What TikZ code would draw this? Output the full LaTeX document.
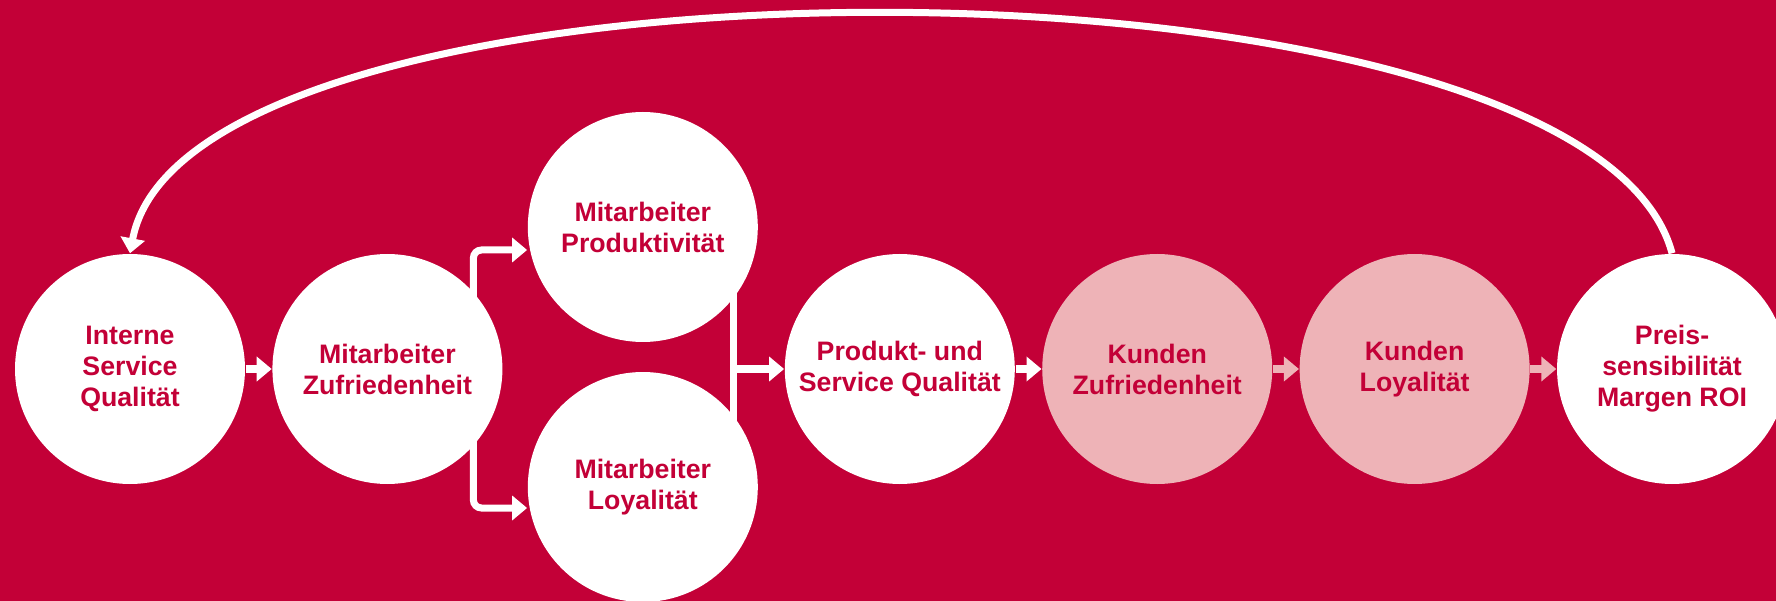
\documentclass[tikz,border=0pt]{standalone}
\usepackage{fontspec}
\setsansfont{Liberation Sans}
\usetikzlibrary{
	arrows.meta,
	positioning,
	calc,
	backgrounds,
}
\definecolor{MyRed}{HTML}{C30037}
\definecolor{MyPink}{HTML}{EEB3B7}
\tikzset{every picture/.style={/utils/exec={\sffamily}}}

\begin{document}
\begin{tikzpicture}	[
				every node/.style={align=center,font=\bfseries\fontsize{7.6}{8.8}\selectfont},
				block/.style={circle,fill=white,text=MyRed,minimum size=23mm,inner sep=0pt},
				kunde/.style={block,fill=MyPink},
				arr/.style={-{Triangle[length=1.5mm,width=2.4mm]},line width=0.7mm,draw=white},
				link/.style={line width=0.7mm,draw=white},
			]
			\useasboundingbox (0,0) rectangle (17.76,-6.01);

			\node (interne) [block] at (1.30,-3.69) {Interne\\Service\\Qualität};
			\node (mazufr) [block,right=2.6mm of interne] {Mitarbeiter\\Zufriedenheit};
			\node (maprod) [block,right=2.4mm of mazufr,yshift=14.2mm] {Mitarbeiter\\Produktivität};
			\node (maloy) [block,right=2.4mm of mazufr,yshift=-11.8mm] {Mitarbeiter\\Loyalität};
			\node (produkt) [block,right=28.1mm of mazufr] {Produkt- und\\Service Qualität};
			\node (kdzufr) [kunde,right=2.6mm of produkt] {Kunden\\Zufriedenheit};
			\node (kdloy) [kunde,right=2.6mm of kdzufr] {Kunden\\Loyalität};
			\node (roi) [block,right=2.6mm of kdloy] {Preis-\\sensibilität\\Margen ROI};

			\draw[arr] (interne) -- (mazufr);
			\draw[arr] (produkt) -- (kdzufr);
			\draw[arr,draw=MyPink] (kdzufr) -- (kdloy);
			\draw[arr,draw=MyPink] (kdloy) -- (roi);
			\draw[arr] (roi.north) .. controls +(-0.85,3.19) and +(0.60,3.19) .. (interne.north);

			\begin{scope}[on background layer]
				\fill[MyRed] (-0.1,0.1) rectangle (17.9,-6.1);
				\coordinate (split) at ([xshift=8.6mm]mazufr.center);
				\coordinate (merge) at ([xshift=-5.1mm]produkt.west);
				\draw[arr,rounded corners=0.8mm] (split) |- ([yshift=-2.3mm]maprod.west);
				\draw[arr,rounded corners=0.8mm] (split) |- ([yshift=-2.1mm]maloy.west);
				\draw[link] (merge |- maprod) -- (merge |- maloy);
				\draw[arr] (merge) -- (produkt);
			\end{scope}
		\end{tikzpicture}
\end{document}
